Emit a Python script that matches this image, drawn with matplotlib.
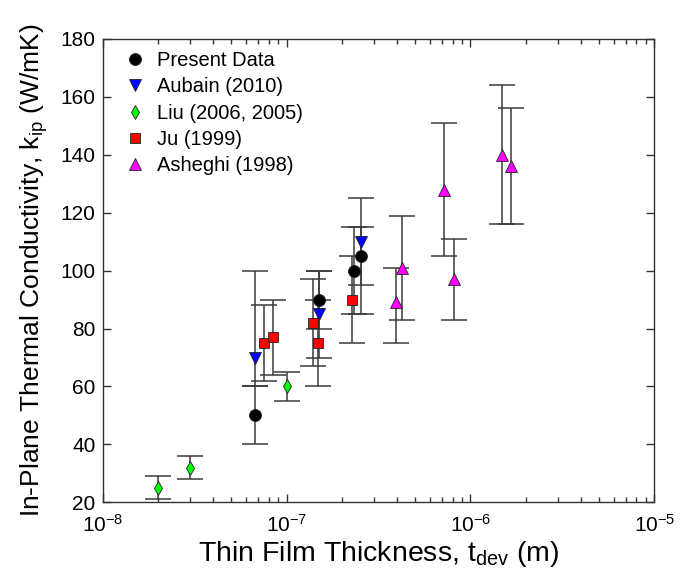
import matplotlib
matplotlib.use("Agg")
import matplotlib.pyplot as plt
from matplotlib.ticker import LogLocator, NullFormatter, MultipleLocator

plt.rcParams['font.family'] = ['Liberation Sans', 'DejaVu Sans']
plt.rcParams['mathtext.fontset'] = 'custom'
plt.rcParams['mathtext.rm'] = 'Liberation Sans'
plt.rcParams['mathtext.it'] = 'Liberation Sans:italic'
plt.rcParams['mathtext.default'] = 'regular'

# ---- data ----
present_x = [6.7e-8, 1.5e-7, 2.33e-7, 2.54e-7]
present_k = [50, 90, 100, 105]
present_lo = [40, 80, 85, 85]
present_hi = [60, 100, 115, 125]

aubain_x = [6.7e-8, 1.5e-7, 2.54e-7]
aubain_k = [70, 85, 110]
aubain_lo = [60, 70, 95]
aubain_hi = [100, 100, 115]

liu_x = [2.0e-8, 3.0e-8, 1.0e-7]
liu_k = [25, 32, 60]
liu_lo = [21, 28, 55]
liu_hi = [29, 36, 65]

ju_x = [7.5e-8, 8.4e-8, 1.4e-7, 1.48e-7, 2.27e-7]
ju_k = [75, 77, 82, 75, 90]
ju_lo = [62, 64, 67, 60, 75]
ju_hi = [88, 90, 97, 90, 105]

asheghi_x = [3.94e-7, 4.26e-7, 7.15e-7, 8.1e-7, 1.48e-6, 1.67e-6]
asheghi_k = [89, 101, 128, 97, 140, 136]
asheghi_lo = [75, 83, 105, 83, 116, 116]
asheghi_hi = [101, 119, 151, 111, 164, 156]

series = [
    ("Present Data", present_x, present_k, present_lo, present_hi, 'o', 'black', 8.6),
    ("Aubain (2010)", aubain_x, aubain_k, aubain_lo, aubain_hi, 'v', '#0000ff', 8.6),
    ("Liu (2006, 2005)", liu_x, liu_k, liu_lo, liu_hi, 'd', '#00ff00', 7.5),
    ("Ju (1999)", ju_x, ju_k, ju_lo, ju_hi, 's', '#ff0000', 7.0),
    ("Asheghi (1998)", asheghi_x, asheghi_k, asheghi_lo, asheghi_hi, '^', '#ff00ff', 8.6),
]

fig = plt.figure(figsize=(6.86, 5.69), dpi=100)
ax = fig.add_axes([0.1497, 0.1172, 0.8041, 0.8143])

# error bars first
for name, x, k, lo, hi, m, c, ms in series:
    yerr = [[kk - l for kk, l in zip(k, lo)], [h - kk for kk, h in zip(k, hi)]]
    ax.errorbar(x, k, yerr=yerr, fmt='none', ecolor='#3a3a3a', elinewidth=1.1,
                capsize=9.5, capthick=1.1, zorder=2)

handles = []
for name, x, k, lo, hi, m, c, ms in series:
    h, = ax.plot(x, k, linestyle='none', marker=m, color=c, markersize=ms,
                 markeredgecolor='#222222', markeredgewidth=0.6, label=name, zorder=3)
    handles.append(h)

ax.set_xscale('log')
ax.set_xlim(1e-8, 1e-5)
ax.set_ylim(20, 180)
ax.yaxis.set_major_locator(MultipleLocator(20))
ax.xaxis.set_major_locator(LogLocator(base=10, numticks=10))
ax.xaxis.set_minor_locator(LogLocator(base=10, subs=range(2, 10), numticks=100))
ax.xaxis.set_minor_formatter(NullFormatter())

ax.tick_params(which='both', direction='in', top=True, right=True,
               color='#333333', labelsize=15, labelcolor='black')
ax.tick_params(which='major', length=6, width=1)
ax.tick_params(which='minor', length=3.5, width=1)
ax.tick_params(axis='x', pad=8)
ax.tick_params(axis='y', pad=5)
for s in ax.spines.values():
    s.set_color('#333333')
    s.set_linewidth(1.0)

ax.set_xlabel(r'Thin Film Thickness, t$_{\rm dev}$ (m)', fontsize=20.5, labelpad=3)
ax.set_ylabel(r'In-Plane Thermal Conductivity, k$_{\rm ip}$ (W/mK)', fontsize=19, labelpad=8)

ax.legend(handles=handles, loc='upper left', bbox_to_anchor=(0.01, 1.0),
          frameon=False, fontsize=14.5, handletextpad=0.3, labelspacing=0.36,
          handlelength=1.5, borderaxespad=0.2)

fig.savefig('out.png', dpi=100)
